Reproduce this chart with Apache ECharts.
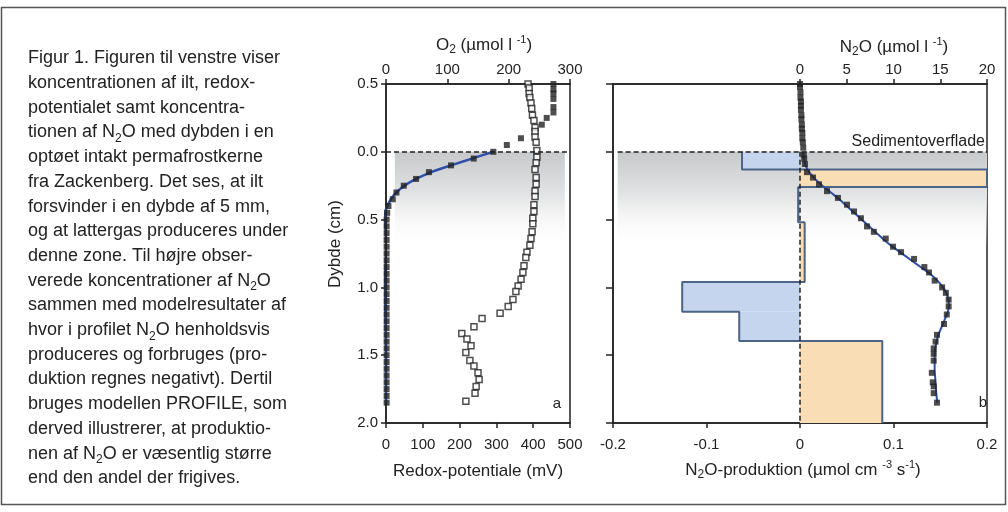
<!DOCTYPE html>
<html>
<head>
<meta charset="utf-8">
<script src="https://cdn.jsdelivr.net/npm/echarts@6/dist/echarts.min.js"></script>
<style>
html, body {margin: 0; padding: 0; background: #fff;}
#chart {width: 1008px; height: 512px;}
</style>
</head>
<body>
<div id="chart"></div>
<script>
var FONT = 'Liberation Sans, Arial, sans-serif';
var INK = '#222';

// dybde-akse (cm), positiv nedad
var depthMin = -0.5, depthMax = 2.0;

// ilt, fyldte kvadrater (umol/l)
var o2Depth = [-0.5, -0.46, -0.43, -0.39, -0.33, -0.29, -0.25, -0.2, -0.1, -0.05, 0, 0.05, 0.1, 0.15, 0.2, 0.25, 0.3, 0.35, 0.4, 0.45,
	0.5, 0.55, 0.6, 0.65, 0.7, 0.75, 0.8, 0.85, 0.9, 0.95, 1.0, 1.05, 1.1, 1.15, 1.2, 1.25, 1.3, 1.35, 1.4, 1.45, 1.5, 1.55, 1.6, 1.65, 1.7, 1.75, 1.8, 1.85];
var o2Conc = [273, 273, 273, 273, 273, 273, 262, 254, 220, 197, 175, 143, 106, 70, 49, 29, 17, 11, 4, 2,
	1, 1, 1, 1, 1, 1, 1, 1, 1, 1, 1, 1, 1, 1, 1, 1, 1, 1, 1, 1, 1, 1, 1, 1, 1, 1, 1, 1];
// ilt, modelkurve
var o2ModelDepth = [0, 0.05, 0.1, 0.15, 0.2, 0.25, 0.3, 0.35, 0.4, 0.45, 0.5, 0.6, 0.7, 0.8, 0.9, 1.0, 1.2, 1.5, 1.85];
var o2Model = [175, 140, 106, 74, 49, 30, 17, 8, 2, -1.5, -3, -4.5, -5, -4.5, -3.5, -2.5, -1, 0, 0];

// redox-potentiale, aabne kvadrater (mV)
var redoxDepth = [-0.5, -0.47, -0.43, -0.4, -0.36, -0.32, -0.27, -0.23, -0.18, -0.15, -0.11, -0.07, -0.01, 0.04, 0.08, 0.13, 0.19, 0.24, 0.29, 0.33,
	0.39, 0.44, 0.49, 0.53, 0.59, 0.64, 0.69, 0.74, 0.78, 0.84, 0.89, 0.94, 0.99, 1.03, 1.09, 1.14, 1.19, 1.23, 1.29, 1.34,
	1.38, 1.43, 1.48, 1.54, 1.58, 1.63, 1.68, 1.73, 1.78, 1.84];
var redoxMv = [386, 389, 389, 391, 394, 396, 398, 402, 405, 405, 405, 408, 410, 410, 408, 405, 408, 408, 405, 405,
	402, 402, 399, 399, 397, 394, 391, 383, 380, 375, 372, 367, 359, 353, 345, 332, 310, 261, 239, 206,
	220, 231, 217, 228, 239, 250, 253, 245, 242, 217];

// lattergas, fyldte kvadrater (umol/l)
var n2oDepth = [-0.5, -0.48, -0.44, -0.4, -0.37, -0.34, -0.31, -0.27, -0.24, -0.2, -0.17, -0.14, -0.1, -0.07, -0.03, 0.02, 0.05,
	0.09, 0.15, 0.19, 0.24, 0.29, 0.34, 0.39, 0.44, 0.49, 0.55, 0.59, 0.64, 0.7, 0.74, 0.79, 0.85, 0.89, 0.95, 1.0, 1.04,
	1.09, 1.14, 1.2, 1.27, 1.35, 1.4, 1.45, 1.49, 1.54, 1.63, 1.7, 1.73, 1.78, 1.85];
var n2oConc = [0, 0, 0.05, 0.05, 0.1, 0.1, 0.1, 0.15, 0.15, 0.2, 0.2, 0.25, 0.25, 0.3, 0.35, 0.4, 0.45,
	0.53, 0.75, 1.39, 2.03, 2.89, 4.06, 5.03, 5.78, 6.52, 7.17, 7.9, 9.17, 9.95, 10.8, 12.2, 13.3, 13.8, 14.4, 15.2, 15.6,
	15.9, 15.9, 15.7, 15.4, 14.65, 14.5, 14.3, 14.3, 14.3, 14.1, 14.2, 14.3, 14.3, 14.65];
// lattergas, modelkurve
var n2oModelDepth = [0, 0.1, 0.15, 0.2, 0.25, 0.3, 0.35, 0.4, 0.45, 0.5, 0.55, 0.6, 0.65, 0.7, 0.75, 0.8, 0.85, 0.9, 0.95,
	1.0, 1.05, 1.1, 1.15, 1.2, 1.25, 1.3, 1.35, 1.4, 1.5, 1.6, 1.7, 1.8, 1.85];
var n2oModel = [0.3, 0.6, 1.0, 1.6, 2.4, 3.3, 4.2, 5.0, 5.8, 6.6, 7.4, 8.2, 9.0, 9.9, 10.9, 11.9, 12.9, 13.9, 14.7,
	15.3, 15.7, 15.9, 15.9, 15.7, 15.4, 15.1, 14.8, 14.6, 14.4, 14.4, 14.5, 14.6, 14.7];

// PROFILE-lag: produktion (umol cm-3 s-1)
var layerTop = [0, 0.13, 0.26, 0.52, 0.96, 1.18, 1.395];
var layerBottom = [0.13, 0.26, 0.52, 0.96, 1.18, 1.395, 2.0];
var layerRate = [-0.062, 0.2, -0.002, 0.005, -0.126, -0.065, 0.088];

var caption = [
	'Figur 1. Figuren til venstre viser',
	'koncentrationen af ilt, redox-',
	'potentialet samt koncentra-',
	'tionen af N2O med dybden i en',
	'optøet intakt permafrostkerne',
	'fra Zackenberg. Det ses, at ilt',
	'forsvinder i en dybde af 5 mm,',
	'og at lattergas produceres under',
	'denne zone. Til højre obser-',
	'verede koncentrationer af N2O',
	'sammen med modelresultater af',
	'hvor i profilet N2O henholdsvis',
	'produceres og forbruges (pro-',
	'duktion regnes negativt). Dertil',
	'bruges modellen PROFILE, som',
	'derved illustrerer, at produktio-',
	'nen af N2O er væsentlig større',
	'end den andel der frigives.'
];

function pairs(xs, ys) {
	return xs.map(function (x, i) { return [x, ys[i]]; });
}

// N2O -> N{sub 2}O i rich text
function richN2O(line) {
	return line.split('N2O').map(function (p) {
		return p ? '{c|' + p + '}' : '';
	}).join('{c|N}{s|2}{c|O}');
}

var titleRich = {
	t: {fontFamily: FONT, fontSize: 17, lineHeight: 22, fill: INK},
	s: {fontFamily: FONT, fontSize: 12, lineHeight: 12, verticalAlign: 'bottom', fill: INK},
	p: {fontFamily: FONT, fontSize: 11, lineHeight: 13, verticalAlign: 'top', fill: INK}
};
var smallRich = {
	t: {fontFamily: FONT, fontSize: 14, lineHeight: 17, fill: INK},
	s: {fontFamily: FONT, fontSize: 10, lineHeight: 10, verticalAlign: 'bottom', fill: INK}
};

// trinprofil om lagene
var outline = [];
for (var i = 0; i < layerRate.length; i++) {
	outline.push([layerRate[i], layerTop[i]], [layerRate[i], layerBottom[i]]);
}

var myChart = echarts.init(document.getElementById('chart'));

function valueAxis(grid, pos, min, max, interval, extra) {
	var ax = {
		type: 'value', gridIndex: grid, position: pos, min: min, max: max, interval: interval,
		axisLine: {show: true, onZero: false, lineStyle: {color: INK, width: 1.5}},
		axisTick: {show: true, inside: false, length: 5, lineStyle: {color: INK, width: 1.5}},
		axisLabel: {color: INK, fontSize: 15, fontFamily: FONT, margin: pos === 'bottom' ? 14 : 7},
		splitLine: {show: false}
	};
	return echarts.util.merge(ax, extra || {}, true);
}

var shade = new echarts.graphic.LinearGradient(0, 0, 0, 1, [
	{offset: 0, color: '#c8c9cb'},
	{offset: 0.45, color: '#e3e4e5'},
	{offset: 1, color: 'rgba(255,255,255,0)'}
]);
var dashed = {color: INK, width: 1.5, type: [5, 3]};

var option = {
	animation: false,
	textStyle: {fontFamily: FONT},
	grid: [
		{left: 386, top: 84, width: 184, height: 339, show: true, borderColor: INK, borderWidth: 1.5},
		{left: 613, top: 84, width: 374, height: 339, show: true, borderColor: INK, borderWidth: 1.5}
	],
	xAxis: [
		valueAxis(0, 'bottom', 0, 500, 100),
		valueAxis(0, 'top', 0, 300, 100),
		valueAxis(1, 'bottom', -0.2, 0.2, 0.1, {axisLabel: {formatter: function (v) { return v === 0 ? '0' : String(Math.round(v * 10) / 10); }}}),
		valueAxis(1, 'top', -20, 20, 5, {axisTick: {customValues: [0, 5, 10, 15, 20]}, axisLabel: {customValues: [0, 5, 10, 15, 20]}})
	],
	yAxis: [
		valueAxis(0, 'left', depthMin, depthMax, 0.5, {inverse: true, axisLabel: {margin: 8, formatter: function (v) { return Math.abs(v).toFixed(1); }}}),
		valueAxis(1, 'left', depthMin, depthMax, 0.5, {inverse: true, axisLabel: {show: false}, axisTick: {length: 7}})
	],
	series: [
		{
			// skygge under sedimentoverfladen, venstre
			type: 'line', xAxisIndex: 0, yAxisIndex: 0, data: [], silent: true, z: 1,
			markArea: {silent: true, itemStyle: {color: shade}, data: [[{coord: [24, 0]}, {coord: [486, 0.72]}]]},
			markLine: {silent: true, symbol: 'none', label: {show: false}, lineStyle: dashed,
				data: [[{coord: [0, 0]}, {coord: [500, 0]}]]}
		},
		{
			type: 'scatter', name: 'Redox', xAxisIndex: 0, yAxisIndex: 0, symbol: 'rect', symbolSize: 6, z: 4,
			itemStyle: {color: '#fff', borderColor: INK, borderWidth: 1.5},
			data: pairs(redoxMv, redoxDepth)
		},
		{
			type: 'line', name: 'O2 model', xAxisIndex: 1, yAxisIndex: 0, smooth: 0.3, showSymbol: false, clip: false, z: 3,
			lineStyle: {color: '#3050a8', width: 2.5},
			data: pairs(o2Model, o2ModelDepth)
		},
		{
			type: 'scatter', name: 'O2', xAxisIndex: 1, yAxisIndex: 0, symbol: 'rect', symbolSize: 6, z: 5,
			itemStyle: {color: INK},
			data: pairs(o2Conc, o2Depth)
		},
		{
			// skygge, hoejre
			type: 'line', xAxisIndex: 2, yAxisIndex: 1, data: [], silent: true, z: 1,
			markArea: {silent: true, itemStyle: {color: shade}, data: [[{coord: [-0.195, 0]}, {coord: [0.2, 0.72]}]]}
		},
		{
			type: 'custom', name: 'Produktion', xAxisIndex: 2, yAxisIndex: 1, z: 2,
			renderItem: function (params, api) {
				var a = api.coord([0, api.value(1)]);
				var b = api.coord([api.value(0), api.value(2)]);
				return {
					type: 'rect',
					shape: {x: Math.min(a[0], b[0]), y: a[1], width: Math.abs(b[0] - a[0]), height: b[1] - a[1]},
					style: {fill: api.value(0) < 0 ? '#c6d5ee' : '#f8ddb5'}
				};
			},
			encode: {x: 0, y: [1, 2]},
			data: layerRate.map(function (r, i) { return [r, layerTop[i], layerBottom[i]]; })
		},
		{
			type: 'line', name: 'Profil', xAxisIndex: 2, yAxisIndex: 1, showSymbol: false, z: 3,
			lineStyle: {color: '#4d6489', width: 2},
			data: outline,
			markLine: {silent: true, symbol: 'none', label: {show: false}, lineStyle: dashed,
				data: [
					[{coord: [-0.195, 0]}, {coord: [0.2, 0]}],
					[{coord: [0, 0]}, {coord: [0, 2.0]}]
				]}
		},
		{
			type: 'line', name: 'N2O model', xAxisIndex: 3, yAxisIndex: 1, smooth: 0.3, showSymbol: false, z: 4,
			lineStyle: {color: '#3050a8', width: 2},
			data: pairs(n2oModel, n2oModelDepth)
		},
		{
			type: 'scatter', name: 'N2O', xAxisIndex: 3, yAxisIndex: 1, symbol: 'rect', symbolSize: 6, z: 5,
			itemStyle: {color: INK},
			data: pairs(n2oConc, n2oDepth)
		}
	],
	graphic: [
		{type: 'rect', silent: true, shape: {x: 1.5, y: 7.5, width: 1004, height: 497},
			style: {fill: 'none', stroke: '#555', lineWidth: 1.5}},
		{type: 'text', x: 28, y: 46, style: {
			text: caption.map(richN2O).join('\n'),
			align: 'left', verticalAlign: 'top',
			rich: {
				c: {fontFamily: FONT, fontSize: 18, lineHeight: 24.7, fill: INK},
				s: {fontFamily: FONT, fontSize: 12, lineHeight: 14.7, verticalAlign: 'bottom', fill: INK}
			}
		}},
		{type: 'text', x: 484, y: 45, style: {text: '{t|O}{s|2}{t| (µmol l }{p|-1}{t|)}', align: 'center', verticalAlign: 'middle', rich: titleRich}},
		{type: 'text', x: 894, y: 47, style: {text: '{t|N}{s|2}{t|O (µmol l }{p|-1}{t|)}', align: 'center', verticalAlign: 'middle', rich: titleRich}},
		{type: 'text', x: 335, y: 244, rotation: Math.PI / 2, style: {text: '{t|Dybde (cm)}', align: 'center', verticalAlign: 'middle', rich: titleRich}},
		{type: 'text', x: 478, y: 471, style: {text: '{t|Redox-potentiale (mV)}', align: 'center', verticalAlign: 'middle', rich: titleRich}},
		{type: 'text', x: 803, y: 470, style: {text: '{t|N}{s|2}{t|O-produktion (µmol cm }{p|-3}{t| s}{p|-1}{t|)}', align: 'center', verticalAlign: 'middle', rich: titleRich}},
		{type: 'text', x: 985, y: 142, style: {text: 'Sedimentoverflade', font: '16px ' + FONT, fill: INK, align: 'right', verticalAlign: 'middle'}},
		{type: 'text', x: 741, y: 294, style: {text: '{t|N}{s|2}{t|O-produktion}', align: 'center', verticalAlign: 'middle', rich: smallRich}},
		{type: 'text', x: 841, y: 373, style: {text: '{t|N}{s|2}{t|O -}', align: 'center', verticalAlign: 'middle', rich: smallRich}},
		{type: 'text', x: 841, y: 390, style: {text: 'forbrug', font: '14px ' + FONT, fill: INK, align: 'center', verticalAlign: 'middle'}},
		{type: 'text', x: 557, y: 404, style: {text: 'a', font: '15px ' + FONT, fill: INK, align: 'center', verticalAlign: 'middle'}},
		{type: 'text', x: 983, y: 403, style: {text: 'b', font: '15px ' + FONT, fill: INK, align: 'center', verticalAlign: 'middle'}}
	]
};

myChart.setOption(option);
</script>
</body>
</html>
